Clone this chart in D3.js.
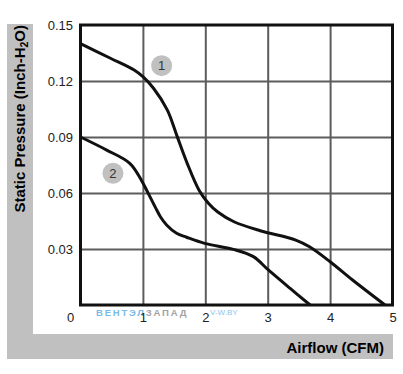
<!DOCTYPE html>
<html><head><meta charset="utf-8">
<script src="https://cdn.jsdelivr.net/npm/d3@7"></script>
<style>
html,body{margin:0;padding:0;background:#fff;}
svg{display:block;}
</style></head>
<body>
<svg id="c" width="403" height="374"></svg>
<script>
// ---- data ----
const xTicks = [0, 1, 2, 3, 4, 5];
const yTicks = [0.03, 0.06, 0.09, 0.12, 0.15];
const curve1X = [0, 0.48, 0.86, 1.0, 1.17, 1.39, 1.55, 1.71, 1.9, 2.05, 2.2, 2.46, 2.88, 3.45, 3.67, 4.0, 4.36, 4.88];
const curve1Y = [0.14, 0.1322, 0.1259, 0.1223, 0.1161, 0.1045, 0.0902, 0.0759, 0.0615, 0.0545, 0.0498, 0.0446, 0.0398, 0.0348, 0.0312, 0.0232, 0.0134, 0];
const curve2X = [0, 0.42, 0.79, 0.98, 1.09, 1.2, 1.28, 1.38, 1.54, 1.7, 1.99, 2.45, 2.77, 3.01, 3.36, 3.68];
const curve2Y = [0.09, 0.083, 0.0759, 0.0666, 0.0595, 0.0523, 0.0473, 0.0429, 0.0384, 0.0363, 0.033, 0.0298, 0.0259, 0.0188, 0.0089, 0];
const seriesNames = ["1", "2"];
const labelX = [1.3, 0.52];
const labelY = [0.1282, 0.0706];
const xTitle = "Airflow (CFM)";
const yTitleMain = "Static Pressure (Inch-H";
const yTitleSub = "2";
const yTitleEnd = "O)";

// ---- layout ----
const svg = d3.select("#c");
const L = 80.5, R = 392.5, T = 25, B = 305;
const x = d3.scaleLinear().domain([0, 5]).range([L, R]);
const y = d3.scaleLinear().domain([0, 0.15]).range([B, T]);
const font = "'Liberation Sans', Arial, Helvetica, sans-serif";

// background frame
svg.append("rect").attr("x", 7).attr("y", 24).attr("width", 386).attr("height", 335).attr("fill", "#c0c0c0");
svg.append("rect").attr("x", 33).attr("y", 0).attr("width", 370).attr("height", 334).attr("fill", "#ffffff");
svg.append("rect").attr("x", 393).attr("y", 0).attr("width", 10).attr("height", 374).attr("fill", "#ffffff");

// grid lines
const gx = svg.append("g").attr("transform", `translate(0,${B})`)
  .call(d3.axisBottom(x).tickValues([1, 2, 3, 4]).tickSize(-(B - T)).tickFormat(""));
gx.select(".domain").remove();
gx.selectAll("line").attr("stroke", "#5c5c5c").attr("stroke-width", 2);
const gy = svg.append("g").attr("transform", `translate(${L},0)`)
  .call(d3.axisLeft(y).tickValues([0.03, 0.06, 0.09, 0.12]).tickSize(-(R - L)).tickFormat(""));
gy.select(".domain").remove();
gy.selectAll("line").attr("stroke", "#5c5c5c").attr("stroke-width", 2);

// watermark
const wm = svg.append("text").attr("x", 96).attr("y", 315.5)
  .attr("font-family", font).attr("font-weight", "bold").attr("font-size", 9.5)
  .attr("letter-spacing", 1.8);
wm.append("tspan").attr("fill", "#7cbbe6").text("ВЕНТЭЛ");
wm.append("tspan").attr("fill", "#a2a2a2").text("ЗАПАД");
svg.append("text").attr("x", 210).attr("y", 315).attr("font-family", font)
  .attr("font-size", 8).attr("fill", "#8fc3ea").text("V-W.BY");

// curves
const line = d3.line().x(d => x(d[0])).y(d => y(d[1])).curve(d3.curveCatmullRom.alpha(0.5));
[[curve1X, curve1Y], [curve2X, curve2Y]].forEach(([xs, ys]) => {
  svg.append("path").datum(xs.map((v, i) => [v, ys[i]]))
    .attr("d", line).attr("fill", "none").attr("stroke", "#111")
    .attr("stroke-width", 3).attr("stroke-linejoin", "round");
});

// border
svg.append("rect").attr("x", L).attr("y", T).attr("width", R - L).attr("height", B - T)
  .attr("fill", "none").attr("stroke", "#111").attr("stroke-width", 3);

// curve labels
seriesNames.forEach((n, i) => {
  svg.append("circle").attr("cx", x(labelX[i])).attr("cy", y(labelY[i])).attr("r", 10.5).attr("fill", "#c0c0c0");
  svg.append("text").attr("x", x(labelX[i])).attr("y", y(labelY[i]) + 4.8)
    .attr("text-anchor", "middle").attr("font-family", font).attr("font-size", 13)
    .attr("fill", "#333").text(n);
});

// axes labels
const ax = svg.append("g").attr("transform", `translate(0,${B})`)
  .call(d3.axisBottom(x).tickValues(xTicks).tickSize(0).tickPadding(8).tickFormat(d3.format("d")));
ax.select(".domain").remove();
ax.selectAll("text").attr("font-family", font).attr("font-size", 13).attr("fill", "#222");
ax.selectAll(".tick").filter(d => d === 0).select("text").attr("x", -10.5);

const ay = svg.append("g").attr("transform", `translate(${L},0)`)
  .call(d3.axisLeft(y).tickValues(yTicks).tickSize(0).tickPadding(7.5).tickFormat(d3.format(".2f")));
ay.select(".domain").remove();
ay.selectAll("text").attr("font-family", font).attr("font-size", 13).attr("fill", "#222");

// titles
svg.append("text").attr("x", 384).attr("y", 353).attr("text-anchor", "end")
  .attr("font-family", font).attr("font-weight", "bold").attr("font-size", 15)
  .attr("fill", "#000").text(xTitle);
const yt = svg.append("text").attr("transform", "translate(25,25) rotate(-90)")
  .attr("text-anchor", "end").attr("font-family", font).attr("font-weight", "bold")
  .attr("font-size", 15).attr("fill", "#000");
yt.append("tspan").text(yTitleMain);
yt.append("tspan").attr("font-size", 10.5).attr("dy", 3).text(yTitleSub);
yt.append("tspan").attr("dy", -3).text(yTitleEnd);
</script>
</body></html>
